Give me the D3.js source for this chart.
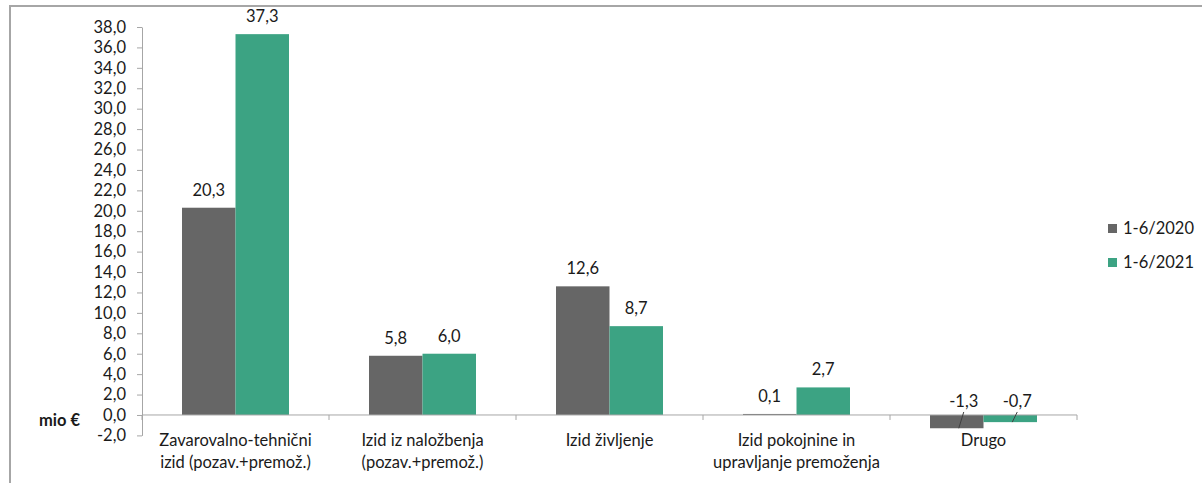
<!DOCTYPE html>
<html>
<head>
<meta charset="utf-8">
<script src="https://cdn.jsdelivr.net/npm/d3@7"></script>
<style>
  body { margin: 0; background: #fff; }
  text { font-family: Lato, "Liberation Sans", sans-serif; fill: #1a1a1a; }
</style>
</head>
<body>
<div id="svgBody"></div>
<script>
var categories = [
    ["Zavarovalno-tehnični", "izid (pozav.+premož.)"],
    ["Izid iz naložbenja", "(pozav.+premož.)"],
    ["Izid življenje"],
    ["Izid pokojnine in", "upravljanje premoženja"],
    ["Drugo"]
];
var seriesNames = ["1-6/2020", "1-6/2021"];
var values2020 = [20.3, 5.8, 12.6, 0.1, -1.3];
var values2021 = [37.3, 6.0, 8.7, 2.7, -0.7];
var yTicks = [-2, 0, 2, 4, 6, 8, 10, 12, 14, 16, 18, 20, 22, 24, 26, 28, 30, 32, 34, 36, 38];
var colors = ["#666666", "#3ca383"];

var W = 1202, H = 483;
var FS = "16.5px";
var svg = d3.select("#svgBody").append("svg")
    .attr("width", W).attr("height", H);

// chart frame (top part cut off in the original)
svg.append("rect")
    .attr("x", 10).attr("y", 6)
    .attr("width", W + 20).attr("height", H + 20)
    .attr("fill", "none")
    .attr("stroke", "#a6a6a6")
    .attr("stroke-width", 2);

var x0 = 142, x1 = 1077;
var y = d3.scaleLinear().domain([-2, 38]).range([435.4, 27]);

var idx = d3.range(categories.length);
var x = d3.scaleBand().domain(idx).range([x0, x1]).paddingInner(0).paddingOuter(0);
var groupW = 107;
var xs = d3.scaleBand().domain([0, 1]).range([0, groupW]);

// comma decimals, plain hyphen for minus
var fmt = function(v) { return d3.format(".1f")(v).replace(".", ",").replace("\u2212", "-"); };

// y axis
var yAxis = svg.append("g")
    .attr("transform", "translate(" + x0 + ",0)")
    .call(d3.axisLeft(y).tickValues(yTicks).tickSize(5).tickSizeOuter(0).tickFormat(fmt));
yAxis.select(".domain").attr("stroke", "#a6a6a6");
yAxis.selectAll(".tick line").attr("stroke", "#a6a6a6");
yAxis.selectAll(".tick text")
    .attr("x", -16)
    .attr("font-size", FS)
    .attr("fill", "#1a1a1a")
    .style("font-family", "Lato, 'Liberation Sans', sans-serif");

// bars
var data = [];
idx.forEach(function(i) {
    data.push({ c: i, s: 0, v: values2020[i] });
    data.push({ c: i, s: 1, v: values2021[i] });
});
function bx(d) { return x(d.c) + (x.bandwidth() - groupW) / 2 + xs(d.s); }

svg.selectAll("rect.bar").data(data).enter().append("rect")
    .attr("class", "bar")
    .attr("x", bx)
    .attr("y", function(d) { return y(Math.max(0, d.v)); })
    .attr("width", xs.bandwidth())
    .attr("height", function(d) { return Math.abs(y(d.v) - y(0)); })
    .attr("fill", function(d) { return colors[d.s]; });

// x axis (at zero)
var xAxis = svg.append("g")
    .attr("transform", "translate(0," + y(0) + ")");
xAxis.append("line")
    .attr("x1", x0).attr("x2", x1)
    .attr("stroke", "#a6a6a6");
xAxis.selectAll("line.tk").data(d3.range(categories.length + 1)).enter().append("line")
    .attr("class", "tk")
    .attr("x1", function(i) { return x0 + i * x.bandwidth(); })
    .attr("x2", function(i) { return x0 + i * x.bandwidth(); })
    .attr("y1", 0).attr("y2", 5)
    .attr("stroke", "#a6a6a6");

// category labels
idx.forEach(function(i) {
    var t = svg.append("text")
        .attr("text-anchor", "middle")
        .attr("font-size", FS);
    categories[i].forEach(function(line, k) {
        t.append("tspan")
            .attr("x", x(i) + x.bandwidth() / 2)
            .attr("y", 446 + k * 22)
            .text(line);
    });
});

// data labels
data.forEach(function(d) {
    var cx = bx(d) + xs.bandwidth() / 2;
    if (d.v >= 0) {
        svg.append("text")
            .attr("x", cx).attr("y", y(d.v) - 12)
            .attr("text-anchor", "middle")
            .attr("font-size", FS)
            .text(fmt(d.v));
    } else {
        // labels moved above zero line with leader lines
        svg.append("text")
            .attr("x", cx + 7).attr("y", y(0) - 8)
            .attr("text-anchor", "middle")
            .attr("font-size", FS)
            .text(fmt(d.v));
        svg.append("line")
            .attr("x1", cx + 7).attr("y1", y(0) - 3)
            .attr("x2", cx + 2).attr("y2", y(d.v))
            .attr("stroke", "#404040")
            .attr("stroke-width", 1);
    }
});

// "mio €" label
svg.append("text")
    .attr("x", 80).attr("y", 426)
    .attr("text-anchor", "end")
    .attr("font-size", FS)
    .attr("font-weight", "bold")
    .text("mio €");

// legend
var legend = svg.append("g");
seriesNames.forEach(function(n, i) {
    legend.append("rect")
        .attr("x", 1108).attr("y", 224 + i * 34)
        .attr("width", 9).attr("height", 9)
        .attr("fill", colors[i]);
    legend.append("text")
        .attr("x", 1123).attr("y", 234 + i * 34)
        .attr("font-size", FS)
        .text(n);
});
</script>
</body>
</html>
